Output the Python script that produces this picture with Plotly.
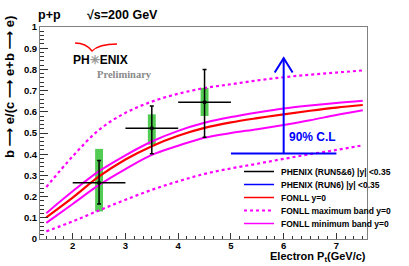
import plotly.graph_objects as go

# ---------------- data ----------------
pt_fonll = [1.5, 2.0, 2.5, 3.0, 3.5, 4.0, 4.5, 5.0, 5.5, 6.0, 6.5, 7.0, 7.5]
fonll_central = [0.102, 0.195, 0.295, 0.375, 0.438, 0.487, 0.524, 0.550, 0.570, 0.588, 0.605, 0.620, 0.632]
fonll_min_hi = [0.122, 0.225, 0.320, 0.395, 0.460, 0.510, 0.548, 0.575, 0.597, 0.616, 0.630, 0.642, 0.652]
fonll_min_lo = [0.076, 0.165, 0.255, 0.330, 0.397, 0.440, 0.478, 0.500, 0.518, 0.538, 0.560, 0.585, 0.607]
fonll_max_hi = [0.245, 0.390, 0.515, 0.595, 0.648, 0.685, 0.712, 0.730, 0.748, 0.763, 0.775, 0.785, 0.795]
fonll_max_lo = [0.036, 0.083, 0.135, 0.185, 0.232, 0.272, 0.307, 0.333, 0.355, 0.378, 0.400, 0.420, 0.442]

run56_pt = [2.5, 3.5, 4.5]
run56_val = [0.265, 0.522, 0.645]
run56_xerr = [0.5, 0.5, 0.5]
run56_stat_hi = [0.370, 0.627, 0.800]
run56_stat_lo = [0.165, 0.402, 0.480]
run56_sys_hi = [0.425, 0.588, 0.713]
run56_sys_lo = [0.130, 0.445, 0.580]

run6_pt = [6.0]
run6_pt_lo = [5.0]
run6_pt_hi = [7.0]
run6_limit_lo = [0.403]
run6_limit_hi = [0.853]

legend_names = ["PHENIX (RUN5&6) |y| <0.35", "PHENIX (RUN6) |y| <0.35",
                "FONLL y=0", "FONLL maximum band y=0", "FONLL minimum band y=0"]

x_ticks = [2, 3, 4, 5, 6, 7]
y_ticks = [0, 0.1, 0.2, 0.3, 0.4, 0.5, 0.6, 0.7, 0.8, 0.9, 1.0]
y_tick_text = ["0", "0.1", "0.2", "0.3", "0.4", "0.5", "0.6", "0.7", "0.8", "0.9", "1"]

# ---------------- layout geometry ----------------
W, H = 409, 266
ML, MR, MT, MB = 40, 42, 27, 27
PW, PH = W - ML - MR, H - MT - MB


def px(xpix):
    return (xpix - ML) / PW


def py(ypix):
    return (H - MB - ypix) / PH


FONT = "Liberation Sans, Arial, Helvetica, sans-serif"
MAG = "#ff00ff"

fig = go.Figure()

# systematic boxes (green)
fig.add_trace(go.Bar(
    x=run56_pt,
    y=[h - l for h, l in zip(run56_sys_hi, run56_sys_lo)],
    base=run56_sys_lo, width=0.15,
    marker=dict(color="#52cc52", line=dict(width=0)),
    showlegend=False, hoverinfo="skip"))

# FONLL curves
fig.add_trace(go.Scatter(x=pt_fonll, y=fonll_max_hi, mode="lines",
                         line=dict(color=MAG, width=2.2, dash="dot", shape="spline"),
                         showlegend=False))
fig.add_trace(go.Scatter(x=pt_fonll, y=fonll_max_lo, mode="lines",
                         line=dict(color=MAG, width=2.2, dash="dot", shape="spline"),
                         showlegend=False))
fig.add_trace(go.Scatter(x=pt_fonll, y=fonll_min_hi, mode="lines",
                         line=dict(color=MAG, width=2, shape="spline"),
                         showlegend=False))
fig.add_trace(go.Scatter(x=pt_fonll, y=fonll_min_lo, mode="lines",
                         line=dict(color=MAG, width=2, shape="spline"),
                         showlegend=False))
fig.add_trace(go.Scatter(x=pt_fonll, y=fonll_central, mode="lines",
                         line=dict(color="#ff0000", width=2.2, shape="spline"),
                         showlegend=False))

# RUN5&6 points with stat errors
fig.add_trace(go.Scatter(
    x=run56_pt, y=run56_val, mode="markers",
    marker=dict(color="black", size=4),
    error_x=dict(type="data", array=run56_xerr, color="black", thickness=1.5, width=0),
    error_y=dict(type="data", symmetric=False,
                 array=[h - v for h, v in zip(run56_stat_hi, run56_val)],
                 arrayminus=[v - l for v, l in zip(run56_val, run56_stat_lo)],
                 color="black", thickness=1.5, width=2),
    showlegend=False))

# RUN6 upper limit (90% C.L.)
lx, ly = [], []
for xc, xl, xh, yl, yh in zip(run6_pt, run6_pt_lo, run6_pt_hi, run6_limit_lo, run6_limit_hi):
    lx += [xl, xh, None, xc, xc, None, xc - 0.17, xc, xc + 0.17]
    ly += [yl, yl, None, yl, yh, None, yh - 0.068, yh, yh - 0.068]
fig.add_trace(go.Scatter(x=lx, y=ly, mode="lines",
                         line=dict(color="#0000ff", width=2),
                         showlegend=False))

annotations = []
shapes = []

annotations.append(dict(x=run6_pt[0] + 0.06, y=0.48, xref="x", yref="y",
                        text="90% C.L", showarrow=False, xanchor="left", yanchor="middle",
                        font=dict(family=FONT, size=12, color="#0000ff", weight="bold")))

# titles
annotations.append(dict(x=px(36), y=py(15), xref="paper", yref="paper", text="p+p",
                        showarrow=False, xanchor="left", yanchor="middle",
                        font=dict(family=FONT, size=12.5, color="black", weight="bold")))
annotations.append(dict(x=px(85), y=py(15), xref="paper", yref="paper", text="√s=200 GeV",
                        showarrow=False, xanchor="left", yanchor="middle",
                        font=dict(family=FONT, size=12.5, color="black", weight="bold")))
annotations.append(dict(x=px(368), y=py(257), xref="paper", yref="paper",
                        text="Electron P<sub>t</sub>(GeV/c)",
                        showarrow=False, xanchor="right", yanchor="middle",
                        font=dict(family=FONT, size=11, color="black", weight="bold")))
annotations.append(dict(x=px(9), y=py(87), xref="paper", yref="paper",
                        text="b ⟶ e/(c ⟶ e+b ⟶ e)", textangle=-90,
                        showarrow=False, xanchor="center", yanchor="middle",
                        font=dict(family="Liberation Sans, DejaVu Sans, sans-serif",
                                  size=13, color="black", weight="bold")))

# PHENIX logo
annotations.append(dict(x=px(71), y=py(60), xref="paper", yref="paper",
                        text="PH<span style='color:#999999'>✳</span>ENIX",
                        showarrow=False, xanchor="left", yanchor="middle",
                        font=dict(family=FONT, size=12, color="black", weight="bold")))
annotations.append(dict(x=px(95), y=py(75), xref="paper", yref="paper",
                        text="Preliminary", showarrow=False, xanchor="left", yanchor="middle",
                        font=dict(family="Liberation Serif, DejaVu Serif, serif", size=10.5,
                                  color="#8a8a8a", weight="bold")))
shapes.append(dict(type="path", xref="paper", yref="paper",
                   path=f"M {px(75)},{py(43)} Q {px(86)},{py(43)} {px(92)},{py(51)} "
                        f"Q {px(99)},{py(44)} {px(117)},{py(44)}",
                   line=dict(color="#ff0000", width=1.3)))

# manual ROOT-style legend
leg_rows = [171.5, 184.5, 197.5, 210.5, 223.5]
leg_styles = [dict(color="black", width=1.5),
              dict(color="#0000ff", width=1.5),
              dict(color="#ff0000", width=1.5),
              dict(color=MAG, width=2, dash="dot"),
              dict(color=MAG, width=1.5)]
for name, row, st in zip(legend_names, leg_rows, leg_styles):
    shapes.append(dict(type="line", xref="paper", yref="paper",
                       x0=px(244), x1=px(274), y0=py(row), y1=py(row), line=st))
    annotations.append(dict(x=px(279), y=py(row), xref="paper", yref="paper",
                            text=name, showarrow=False, xanchor="left", yanchor="middle",
                            font=dict(family=FONT, size=8.5, color="black", weight="bold")))

fig.update_layout(
    width=W, height=H, autosize=False,
    margin=dict(l=ML, r=MR, t=MT, b=MB, pad=0),
    paper_bgcolor="white", plot_bgcolor="white",
    showlegend=False, barmode="overlay",
    annotations=annotations, shapes=shapes,
    xaxis=dict(range=[1.38, 7.58], tickvals=x_ticks, ticks="inside", ticklen=6,
               tickcolor="#333333", tickwidth=1, automargin=False,
               ticklabelstandoff=-2,
               minor=dict(dtick=1 / 6, tick0=2, ticks="inside", ticklen=3,
                          tickcolor="#333333", showgrid=False),
               showline=True, linecolor="#808080", linewidth=1, mirror=True,
               showgrid=False, zeroline=False,
               tickfont=dict(family=FONT, size=9.5, color="black", weight="bold")),
    yaxis=dict(range=[0, 1], tickvals=y_ticks, ticktext=y_tick_text, ticks="inside",
               ticklen=8, tickcolor="#333333", tickwidth=1, automargin=False,
               minor=dict(dtick=0.02, tick0=0, ticks="inside", ticklen=4,
                          tickcolor="#333333", showgrid=False),
               showline=True, linecolor="#808080", linewidth=1, mirror=True,
               showgrid=False, zeroline=False,
               tickfont=dict(family=FONT, size=9.5, color="black", weight="bold")),
)

fig.write_html("out.html", config={"displayModeBar": False},
               post_script="document.body.style.margin='0';document.body.style.overflow='hidden';")
